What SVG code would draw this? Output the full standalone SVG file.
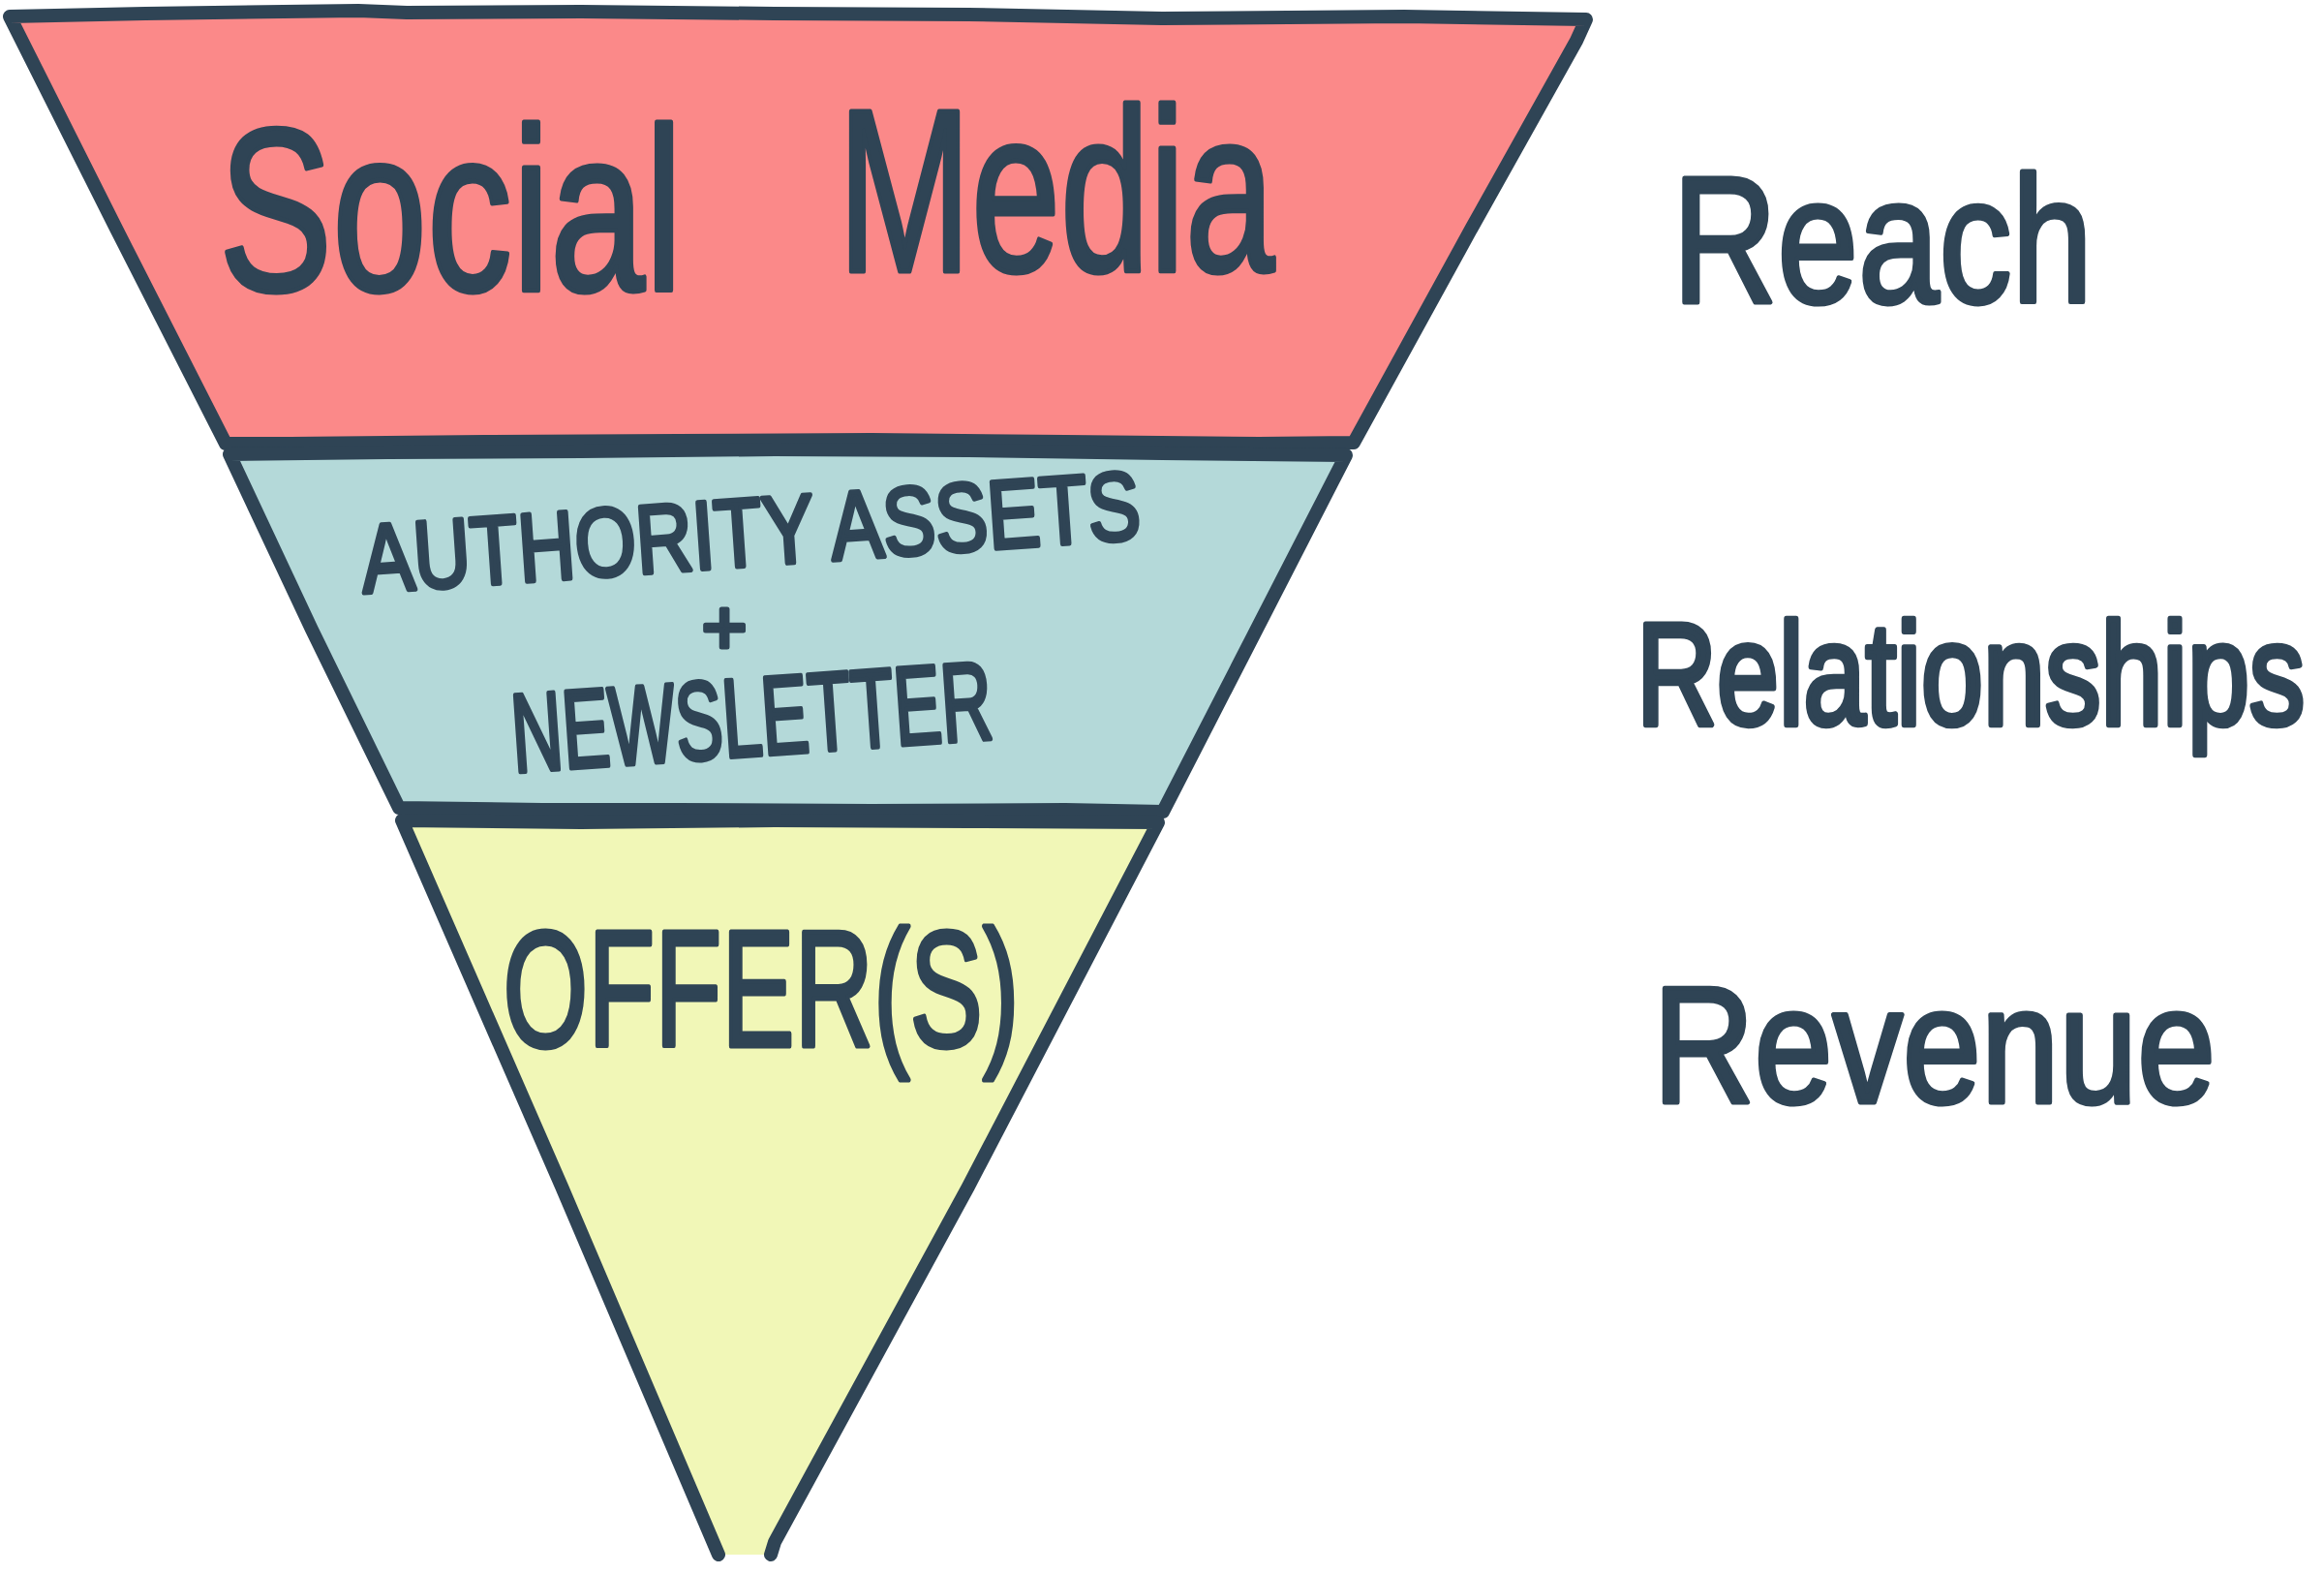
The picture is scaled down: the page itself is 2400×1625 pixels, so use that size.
<svg xmlns="http://www.w3.org/2000/svg" width="2400" height="1625" viewBox="0 0 2400 1625">
<style>
.outline{stroke:#2F4455;stroke-width:14;stroke-linejoin:round;stroke-linecap:round;fill:none}
.hand{font-family:"Liberation Sans","DejaVu Sans",sans-serif;fill:#2F4455;stroke:#2F4455;stroke-width:5;stroke-linejoin:round}
</style>
<rect width="2400" height="1625" fill="#ffffff"/>
<g id="band-social">
<path class="outline" style="fill:#FB8989" d="M 10,17 L 150,14 L 370,11 L 420,13 L 600,12 L 800,14 L 1000,15 L 1200,19 L 1450,17 L 1638,20 L 1628,42 L 1520,235 L 1398,457 L 1300,458 L 1100,456 L 900,454 L 700,455 L 500,456 L 300,458 L 233,458 L 120,236 Z"/>
<text class="hand" font-size="240"><tspan x="226" y="300" textLength="479" lengthAdjust="spacingAndGlyphs">Social</tspan> <tspan x="865" y="280" textLength="451" lengthAdjust="spacingAndGlyphs">Media</tspan></text>
</g>
<g id="band-authority">
<path class="outline" style="fill:#B4D9D9" d="M 237,469 L 400,467 L 600,466 L 800,464 L 1000,465 L 1200,468 L 1390,470 L 1295,655 L 1201,838 L 1100,836 L 900,837 L 700,836 L 560,836 L 412,834 L 322,650 Z"/>
<text class="hand" font-size="100" x="775" y="584" text-anchor="middle" textLength="806" lengthAdjust="spacingAndGlyphs" transform="rotate(-4 775 548)">AUTHORITY ASSETS</text>
<text class="hand" font-size="80" x="748" y="675" text-anchor="middle">+</text>
<text class="hand" font-size="115" x="776" y="780" text-anchor="middle" textLength="497" lengthAdjust="spacingAndGlyphs" transform="rotate(-4 776 738)">NEWSLETTER</text>
</g>
<g id="band-offers">
<path style="fill:#F1F7B7;stroke:none" d="M 415,847 L 600,849 L 800,847 L 1000,848 L 1196,849 L 1000,1225 L 800,1595 L 796,1605 L 742,1605 L 580,1225 Z"/>
<path class="outline" d="M 742,1605 L 580,1225 L 415,847 L 600,849 L 800,847 L 1000,848 L 1196,849 L 1000,1225 L 800,1592 L 796,1605"/>
<text class="hand" font-size="170" x="786" y="1080" text-anchor="middle" textLength="533" lengthAdjust="spacingAndGlyphs">OFFER(S)</text>
</g>
<g id="label-reach">
<text class="hand" font-size="185" x="1727" y="312" textLength="434" lengthAdjust="spacingAndGlyphs">Reach</text>
</g>
<g id="label-relationships">
<text class="hand" font-size="115" x="0" y="0" transform="translate(1690 748) scale(1 1.3)">Relationships</text>
</g>
<g id="label-revenue">
<text class="hand" font-size="170" x="1707" y="1138" textLength="581" lengthAdjust="spacingAndGlyphs">Revenue</text>
</g>
</svg>
